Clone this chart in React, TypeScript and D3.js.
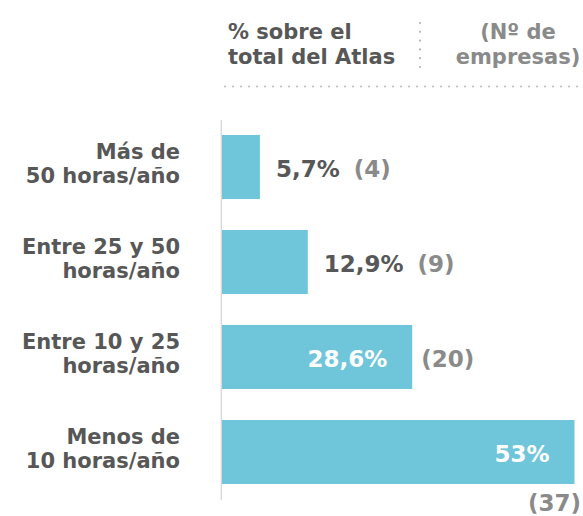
import React from "react";
import * as d3 from "d3";

const categories: string[][] = [
  ["Más de", "50 horas/año"],
  ["Entre 25 y 50", "horas/año"],
  ["Entre 10 y 25", "horas/año"],
  ["Menos de", "10 horas/año"],
];
const percentValues: number[] = [5.7, 12.9, 28.6, 53];
const percentLabels: string[] = ["5,7%", "12,9%", "28,6%", "53%"];
const companyCounts: number[] = [4, 9, 20, 37];
const headerLeft: string[] = ["% sobre el", "total del Atlas"];
const headerRight: string[] = ["(Nº de", "empresas)"];

const W = 583;
const H = 516;
const FONT = "'DejaVu Sans', Verdana, sans-serif";
const DARK = "#575757";
const GRAY = "#8a8a8a";
const BAR = "#6fc6da";

export default function App() {
  const keys = categories.map((c) => c.join(" "));
  const x = d3.scaleLinear().domain([0, 53]).range([222, 574.5]);
  const y = d3
    .scaleBand<string>()
    .domain(keys)
    .range([119.5, 499.5])
    .paddingInner(0.326)
    .paddingOuter(0.163);
  const bw = y.bandwidth();

  const vDots = d3.range(23, 70, 8.8);
  const hDots = d3.range(225, 581, 8);

  return (
    <svg
      width={W}
      height={H}
      style={{ position: "absolute", left: 0, top: 0, background: "#fff" }}
      fontFamily={FONT}
      fontWeight="bold"
    >
      {/* header */}
      <g fontSize={21}>
        {headerLeft.map((t, i) => (
          <text key={i} x={228} y={39 + i * 24.5} fill={DARK}>
            {t}
          </text>
        ))}
        {headerRight.map((t, i) => (
          <text key={i} x={518} y={39 + i * 24.5} fill={GRAY} textAnchor="middle">
            {t}
          </text>
        ))}
      </g>
      {vDots.map((d, i) => (
        <circle key={"v" + i} cx={420} cy={d} r={1.1} fill="#b5b5b5" />
      ))}
      {hDots.map((d, i) => (
        <circle key={"h" + i} cx={d} cy={86.5} r={1} fill="#bdbdbd" />
      ))}

      {/* axis line */}
      <line x1={221.3} x2={221.3} y1={120} y2={500} stroke="#d6d6d6" strokeWidth={1.3} />

      {/* bars */}
      {keys.map((k, i) => {
        const top = y(k)!;
        const cy = top + bw / 2;
        const v = percentValues[i];
        const xe = x(v);
        const inside = v > 20;
        const countText = `(${companyCounts[i]})`;
        const countW = countText.length * 14;
        const countBelow = xe + 9 + countW > W;
        return (
          <g key={k}>
            <rect x={x(0)} y={top} width={xe - x(0)} height={bw} fill={BAR} />
            <g fontSize={21} fill={DARK} textAnchor="end">
              <text x={180} y={cy - 7.7}>
                {categories[i][0]}
              </text>
              <text x={180} y={cy + 16.3}>
                {categories[i][1]}
              </text>
            </g>
            {inside ? (
              <text x={xe - 25} y={cy + 9.5} fontSize={23} fill="#fff" textAnchor="end">
                {percentLabels[i]}
              </text>
            ) : (
              <text x={xe + 16} y={cy + 9.5} fontSize={23} fill={DARK}>
                {percentLabels[i]}
                <tspan dx={14} fill={GRAY}>
                  {countText}
                </tspan>
              </text>
            )}
            {inside &&
              (countBelow ? (
                <text x={W - 2} y={top + bw + 27} fontSize={23} fill={GRAY} textAnchor="end">
                  {countText}
                </text>
              ) : (
                <text x={xe + 9} y={cy + 9.5} fontSize={23} fill={GRAY}>
                  {countText}
                </text>
              ))}
          </g>
        );
      })}
    </svg>
  );
}
